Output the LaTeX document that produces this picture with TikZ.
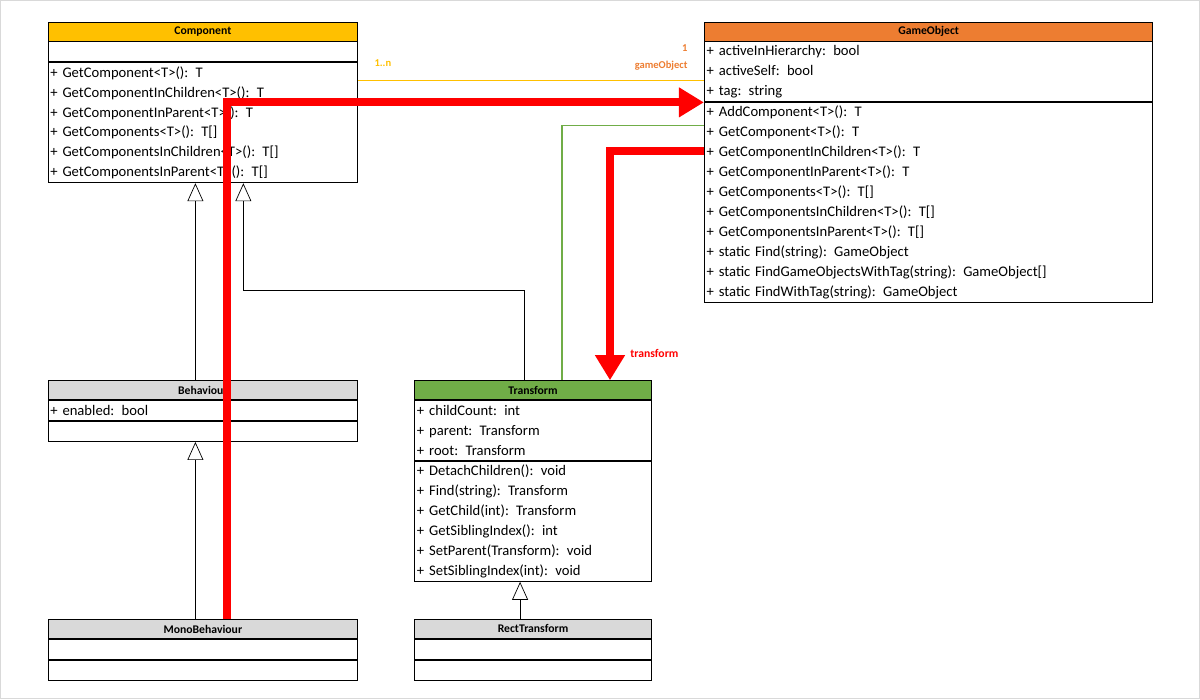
\documentclass[tikz,border=0pt]{standalone}
\usepackage{fontspec}
\setmainfont{Carlito}
\usetikzlibrary{arrows.meta,positioning}
\definecolor{compyellow}{HTML}{FFC000}
\definecolor{goorange}{HTML}{ED7D31}
\definecolor{trgreen}{HTML}{70AD47}
\definecolor{hdgray}{HTML}{D9D9D9}
\tikzset{
  hd/.style={draw,minimum height=0.57cm,inner sep=0pt,font=\bfseries},
  rows/.style={draw,align=left,anchor=north west,inner xsep=2pt,inner ysep=0pt,minimum height=#1*0.6cm},
  inherit/.style={-{Triangle[open,length=0.54cm,width=0.48cm]},line width=0.6pt},
  bigred/.style={red,line width=0.24cm,-{Triangle[length=0.75cm,width=0.85cm]}},
}
\begin{document}
\begin{tikzpicture}[x=0.03cm,y=-0.03cm,font=\fontsize{12.5}{17.07}\selectfont,line width=0.8pt]
\draw[gray!30,line width=1pt] (0,0) rectangle (1200,699);
\useasboundingbox (0,0) rectangle (1200,699);

% Component
\node[hd,fill=compyellow,minimum width=310*0.03cm,anchor=north west] (comp) at (47,21) {Component};
\node[rows=1,minimum width=310*0.03cm] (compA) at (comp.south west) {};
\node[rows=6,text width=310*0.03cm-4pt] (compM) at (compA.south west) {+ GetComponent<T>(): T\\+ GetComponentInChildren<T>(): T\\+ GetComponentInParent<T>(): T\\+ GetComponents<T>(): T[]\\+ GetComponentsInChildren<T>(): T[]\\+ GetComponentsInParent<T>(): T[]};

% GameObject
\node[hd,fill=goorange,minimum width=449*0.03cm,anchor=north west] (go) at (704,21) {GameObject};
\node[rows=3,text width=449*0.03cm-4pt] (goA) at (go.south west) {+ activeInHierarchy: bool\\+ activeSelf: bool\\+ tag: string};
\node[rows=10,text width=449*0.03cm-4pt] (goM) at (goA.south west) {+ AddComponent<T>(): T\\+ GetComponent<T>(): T\\+ GetComponentInChildren<T>(): T\\+ GetComponentInParent<T>(): T\\+ GetComponents<T>(): T[]\\+ GetComponentsInChildren<T>(): T[]\\+ GetComponentsInParent<T>(): T[]\\+ static Find(string): GameObject\\+ static FindGameObjectsWithTag(string): GameObject[]\\+ static FindWithTag(string): GameObject};

% Behaviour
\node[hd,fill=hdgray,minimum width=310*0.03cm,anchor=north west] (beh) at (47,380) {Behaviour};
\node[rows=1,text width=310*0.03cm-4pt] (behA) at (beh.south west) {+ enabled: bool};
\node[rows=1,minimum width=310*0.03cm] (behM) at (behA.south west) {};

% MonoBehaviour
\node[hd,fill=hdgray,minimum width=310*0.03cm,anchor=north west] (mono) at (47,619) {MonoBehaviour};
\node[rows=1,minimum width=310*0.03cm] (monoA) at (mono.south west) {};
\node[rows=1,minimum width=310*0.03cm] (monoM) at (monoA.south west) {};

% Transform
\node[hd,fill=trgreen,minimum width=237*0.03cm,anchor=north west] (tr) at (414,380) {Transform};
\node[rows=3,text width=237*0.03cm-4pt] (trA) at (tr.south west) {+ childCount: int\\+ parent: Transform\\+ root: Transform};
\node[rows=6,text width=237*0.03cm-4pt] (trM) at (trA.south west) {+ DetachChildren(): void\\+ Find(string): Transform\\+ GetChild(int): Transform\\+ GetSiblingIndex(): int\\+ SetParent(Transform): void\\+ SetSiblingIndex(int): void};

% RectTransform
\node[hd,fill=hdgray,minimum width=237*0.03cm,anchor=north west] (rect) at (414,619) {RectTransform};
\node[rows=1,minimum width=237*0.03cm] (rectA) at (rect.south west) {};
\node[rows=1,minimum width=237*0.03cm] (rectM) at (rectA.south west) {};

% association
\draw[compyellow,line width=1.2pt] (compM.north east |- 0,80) -- (goA.west |- 0,80);
\node[compyellow,font=\bfseries\small,anchor=west] (mult1) at (370,63) {1..n};
\node[goorange,font=\bfseries\small,anchor=east] (mult2) at (692,48) {1};
\node[goorange,font=\bfseries\small,anchor=east] (role) at (692,65) {gameObject};

% inheritance
\draw[inherit] (beh.north -| 195,0) -- (compM.south -| 195,0);
\draw[inherit] (tr.north -| 524,0) |- (243,290) -- (compM.south -| 243,0);
\draw[inherit] (mono.north -| 195,0) -- (behM.south -| 195,0);
\draw[inherit] (rect.north -| 520,0) -- (trM.south -| 520,0);

% transform <-> gameObject
\draw[trgreen,line width=1.2pt] (tr.north -| 562,0) |- (goM.west |- 0,125);
\draw[bigred] (mono.north -| 227,0) |- (goM.north west);
\draw[bigred] (goM.west |- 0,151) -| (tr.north -| 610,0);
\node[red,font=\bfseries,anchor=west] (lbl) at (626,353) {transform};
\end{tikzpicture}
\end{document}
